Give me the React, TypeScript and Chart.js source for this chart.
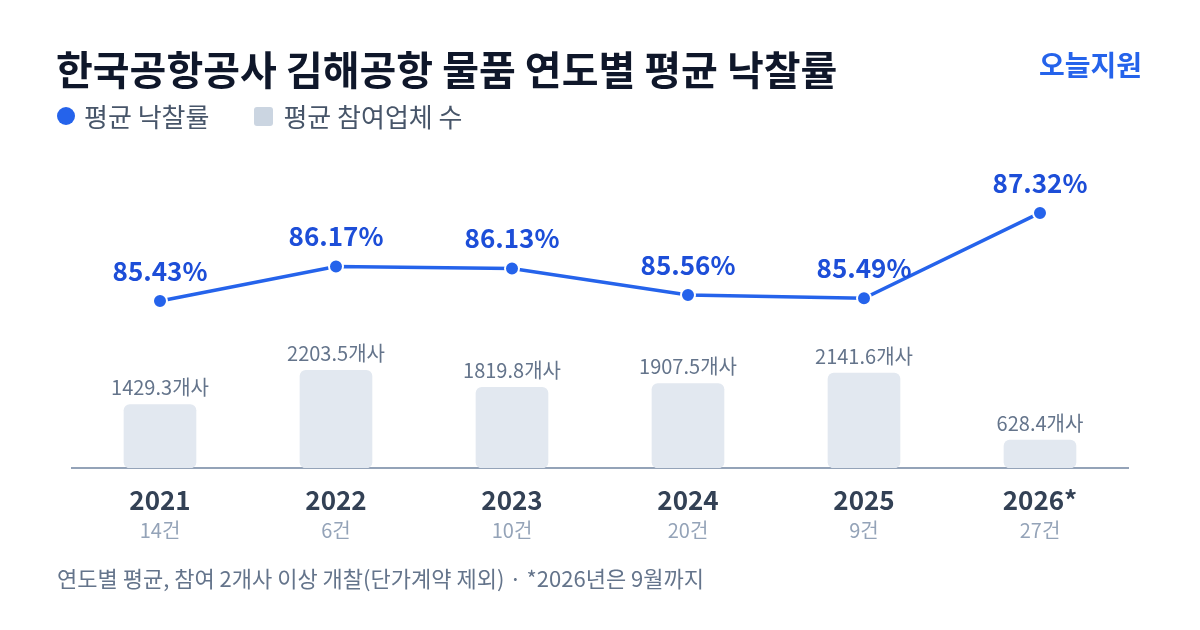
import React, { useRef, useEffect } from 'react';
import { Chart, registerables } from 'chart.js';

Chart.register(...registerables);

const years = ['2021', '2022', '2023', '2024', '2025', '2026*'];
const caseCounts = ['14건', '6건', '10건', '20건', '9건', '27건'];
const winRates = [85.43, 86.17, 86.13, 85.56, 85.49, 87.32];
const bidders = [1429.3, 2203.5, 1819.8, 1907.5, 2141.6, 628.4];

const FONT = '"Noto Sans CJK KR", "Noto Sans", sans-serif';

const labelsPlugin = {
  id: 'customLabels',
  afterDatasetsDraw(chart: any) {
    const ctx = chart.ctx;
    ctx.save();
    ctx.textAlign = 'center';
    ctx.textBaseline = 'middle';

    // bar labels
    const barMeta = chart.getDatasetMeta(0);
    barMeta.data.forEach((el: any, i: number) => {
      ctx.font = `400 20px ${FONT}`;
      ctx.fillStyle = '#64748b';
      ctx.fillText(`${bidders[i]}개사`, el.x, el.y - 17);
    });

    // line labels
    const lineMeta = chart.getDatasetMeta(1);
    lineMeta.data.forEach((el: any, i: number) => {
      ctx.font = `700 26px ${FONT}`;
      ctx.fillStyle = '#1d4ed8';
      ctx.fillText(`${winRates[i].toFixed(2)}%`, el.x, el.y - 30);
    });

    // x labels
    const xScale = chart.scales.x;
    const bottom = chart.chartArea.bottom;
    years.forEach((y, i) => {
      const x = xScale.getPixelForValue(i);
      ctx.font = `700 26px ${FONT}`;
      ctx.fillStyle = '#334155';
      ctx.fillText(y, x, bottom + 32);
      ctx.font = `400 20px ${FONT}`;
      ctx.fillStyle = '#94a3b8';
      ctx.fillText(caseCounts[i], x, bottom + 62);
    });
    ctx.restore();
  },
};

const App: React.FC = () => {
  const chartRef = useRef<HTMLCanvasElement>(null);
  const chartInstance = useRef<Chart | null>(null);

  useEffect(() => {
    if (!chartRef.current) return;
    if (chartInstance.current) chartInstance.current.destroy();
    const ctx = chartRef.current.getContext('2d');
    if (!ctx) return;

    chartInstance.current = new Chart(ctx, {
      type: 'bar',
      data: {
        labels: years,
        datasets: [
          {
            type: 'bar',
            label: '평균 참여업체 수',
            data: bidders,
            yAxisID: 'yBar',
            backgroundColor: '#e2e8f0',
            borderRadius: 6,
            borderSkipped: false,
            barThickness: 72,
            order: 2,
          },
          {
            type: 'line',
            label: '평균 낙찰률',
            data: winRates,
            yAxisID: 'yRate',
            borderColor: '#2563eb',
            borderWidth: 3.5,
            pointRadius: 7,
            pointBackgroundColor: '#2563eb',
            pointBorderColor: '#ffffff',
            pointBorderWidth: 2,
            tension: 0,
            order: 1,
          } as any,
        ],
      },
      options: {
        responsive: false,
        animation: false,
        layout: { padding: { left: 72, right: 72, top: 150, bottom: 162 } },
        plugins: {
          legend: { display: false },
          tooltip: { enabled: false },
        },
        scales: {
          x: {
            grid: { display: false, drawTicks: false },
            border: { display: true, color: '#94a3b8', width: 2 },
            ticks: { display: false },
          },
          yBar: {
            display: false,
            min: 0,
            max: 7180,
          },
          yRate: {
            display: false,
            min: 81.85,
            max: 88.67,
          },
        },
      },
      plugins: [labelsPlugin],
    });

    return () => {
      if (chartInstance.current) {
        chartInstance.current.destroy();
        chartInstance.current = null;
      }
    };
  }, []);

  return (
    <div
      style={{
        position: 'relative',
        width: 1200,
        height: 630,
        margin: -8,
        background: '#ffffff',
        fontFamily: FONT,
        overflow: 'hidden',
      }}
    >
      <canvas ref={chartRef} width={1200} height={630} style={{ position: 'absolute', left: 0, top: 0 }} />
      <div
        style={{
          position: 'absolute',
          left: 56,
          top: 41,
          fontSize: 40,
          fontWeight: 700,
          color: '#0f172a',
          lineHeight: '54px',
          whiteSpace: 'nowrap',
        }}
      >
        한국공항공사 김해공항 물품 연도별 평균 낙찰률
      </div>
      <div
        style={{
          position: 'absolute',
          right: 58,
          top: 45,
          fontSize: 28,
          fontWeight: 700,
          color: '#2563eb',
          lineHeight: '38px',
        }}
      >
        오늘지원
      </div>
      <div
        style={{
          position: 'absolute',
          left: 57,
          top: 99,
          display: 'flex',
          alignItems: 'center',
          fontSize: 26,
          color: '#475569',
          lineHeight: '34px',
          whiteSpace: 'nowrap',
        }}
      >
        <span style={{ width: 18, height: 18, borderRadius: 9, background: '#2563eb', marginRight: 9 }} />
        <span>평균 낙찰률</span>
        <span
          style={{ width: 19, height: 19, borderRadius: 3, background: '#cbd5e1', marginLeft: 45, marginRight: 10 }}
        />
        <span>평균 참여업체 수</span>
      </div>
      <div
        style={{
          position: 'absolute',
          left: 57,
          top: 562,
          fontSize: 22,
          color: '#64748b',
          lineHeight: '30px',
          whiteSpace: 'nowrap',
        }}
      >
        연도별 평균, 참여 2개사 이상 개찰(단가계약 제외) · *2026년은 9월까지
      </div>
    </div>
  );
};

export default App;
